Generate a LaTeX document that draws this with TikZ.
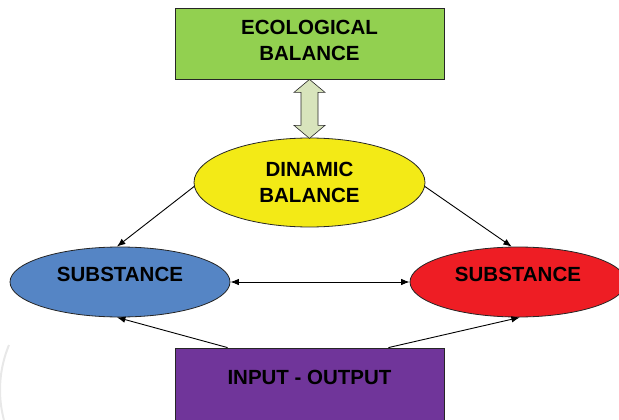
\documentclass[tikz,border=0pt]{standalone}
\usepackage{fontspec}
\setmainfont{Liberation Sans}
\usetikzlibrary{arrows.meta,shapes.geometric,calc}
\definecolor{cgreen}{HTML}{92D050}
\definecolor{cyellow}{HTML}{F3EA16}
\definecolor{cblue}{HTML}{5585C5}
\definecolor{cred}{HTML}{EE1D24}
\definecolor{cpurple}{HTML}{70359A}
\definecolor{cpale}{HTML}{D8E4BC}
\begin{document}
\begin{tikzpicture}[x=1pt,y=-1pt,
  lbl/.style={font=\fontsize{20.5}{26}\selectfont\bfseries, text=black},
  box/.style={lbl, draw=black!85, line width=0.8pt, rectangle, minimum width=269pt, inner sep=0pt},
  oval/.style={lbl, draw=black!85, line width=0.8pt, ellipse, inner sep=0pt},
  twoline/.style={align=center},
  raised/.style={text height=0pt, text depth=1.3pt},
  conn/.style={draw=black, line width=0.9pt, -{Latex[length=8.5pt,width=6.5pt]}},
  both/.style={draw=black, line width=0.9pt, {Latex[length=8.5pt,width=6.5pt]}-{Latex[length=8.5pt,width=6.5pt]}},
  blockarrow/.style={fill=cpale, draw=black!85, line width=0.6pt, line join=miter}
]
\useasboundingbox (0,0) rectangle (619,420);
\draw[black!9, line width=2pt] (9,345) arc[start angle=202.6, end angle=165.2, radius=117];

\node[box, twoline, fill=cgreen, minimum height=71pt] (eco) at (309.5,43.5) {ECOLOGICAL\\BALANCE\\[-19pt]};
\node[oval, twoline, fill=cyellow, minimum width=231pt, minimum height=89pt] (dyn) at (309.5,182.5) {DINAMIC\\BALANCE};
\node[oval, raised, fill=cblue, minimum width=220pt, minimum height=70pt] (sl) at (120,282) {SUBSTANCE};
\node[oval, raised, fill=cred, minimum width=216pt, minimum height=70pt] (sr) at (518,282) {SUBSTANCE};
\node[box, raised, fill=cpurple, minimum height=74pt] (io) at (309.5,385) {INPUT - OUTPUT};

\draw[blockarrow] (eco.south) -- ++(15.5,13) -- ++(-7,0) -- ++(0,33) -- ++(7,0) -- ++(-15.5,13)
  -- ++(-15.5,-13) -- ++(7,0) -- ++(0,-33) -- ++(-7,0) -- cycle;

\draw[conn] (dyn.182) -- (sl.95);
\draw[conn] (dyn.-2) -- (sr.100);
\draw[both] (sl.east) -- (sr.west);
\draw[conn] ([xshift=53pt]io.north west) -- (sl.265);
\draw[conn] ([xshift=-56pt]io.north east) -- (sr.273);
\end{tikzpicture}
\end{document}
